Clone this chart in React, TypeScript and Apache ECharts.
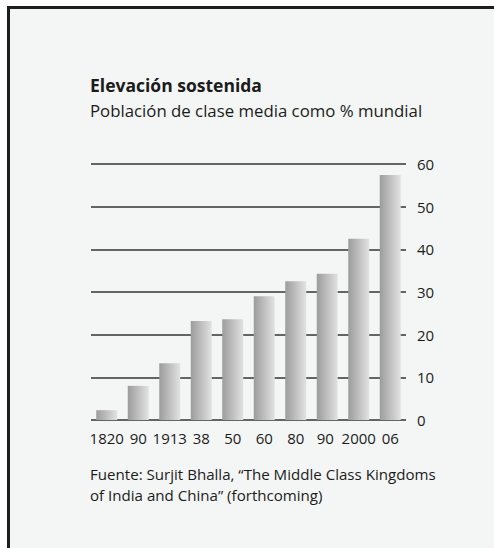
import React, { useEffect, useRef } from "react";
import * as echarts from "echarts";

const categories = ["1820", "90", "1913", "38", "50", "60", "80", "90 ", "2000", "06"];
const values = [2.3, 8.0, 13.3, 23.2, 23.6, 29.0, 32.5, 34.3, 42.5, 57.4];
const yTicks = [0, 10, 20, 30, 40, 50, 60];
const titleText = "Elevación sostenida";
const subtitleText = "Población de clase media como % mundial";
const sourceLines = [
  "Fuente: Surjit Bhalla, \u201cThe Middle Class Kingdoms",
  "of India and China\u201d (forthcoming)",
];

const FONT = "'Open Sans', 'Noto Sans', sans-serif";
const INK = "#1b1b1b";

export default function App() {
  const ref = useRef<HTMLDivElement | null>(null);
  useEffect(() => {
    if (!ref.current) return;
    const chart = echarts.init(ref.current, undefined, { renderer: "svg" });
    chart.setOption({
      animation: false,
      backgroundColor: "transparent",
      textStyle: { fontFamily: FONT, color: INK },
      title: [
        {
          text: titleText,
          left: 90,
          top: 76,
          padding: 0,
          textStyle: { fontFamily: FONT, fontSize: 17.5, lineHeight: 17, fontWeight: "bold", color: INK },
        },
        {
          text: subtitleText,
          left: 90,
          top: 101.5,
          padding: 0,
          textStyle: { fontFamily: FONT, fontSize: 16.8, lineHeight: 17, fontWeight: "normal", color: INK },
        },
        {
          text: sourceLines.join("\n"),
          left: 90,
          top: 463,
          padding: 0,
          textStyle: { fontFamily: FONT, fontSize: 15.1, fontWeight: "normal", color: INK, lineHeight: 21 },
        },
      ],
      grid: { left: 91, top: 164, width: 315, height: 256, containLabel: false },
      xAxis: {
        type: "category",
        data: categories,
        axisLine: { show: false },
        axisTick: { show: false },
        axisLabel: {
          interval: 0,
          margin: 10,
          fontFamily: FONT,
          fontSize: 15,
          color: INK,
        },
      },
      yAxis: {
        type: "value",
        position: "right",
        min: yTicks[0],
        max: yTicks[yTicks.length - 1],
        interval: 10,
        axisLine: { show: false },
        axisTick: { show: false },
        splitLine: { show: true, lineStyle: { color: "#333333", width: 1.6 } },
        axisLabel: {
          margin: 11,
          fontFamily: FONT,
          fontSize: 15,
          color: INK,
        },
      },
      series: [
        {
          type: "bar",
          data: values,
          barWidth: 21,
          itemStyle: {
            color: new echarts.graphic.LinearGradient(0, 0, 1, 0, [
              { offset: 0, color: "#9c9c9c" },
              { offset: 1, color: "#e2e2e2" },
            ]),
          },
        },
      ],
    });
    return () => chart.dispose();
  }, []);

  return (
    <div style={{ position: "fixed", left: 0, top: 0, width: 494, height: 548, background: "#ffffff", overflow: "hidden" }}>
      <div
        style={{
          position: "absolute",
          left: 7,
          top: 6,
          width: 487,
          height: 542,
          borderLeft: "3px solid #1e1e1e",
          borderTop: "3px solid #1e1e1e",
          background: "#f4f6f5",
          boxSizing: "border-box",
        }}
      />
      <div ref={ref} style={{ position: "absolute", left: 0, top: 0, width: 494, height: 548 }} />
    </div>
  );
}
